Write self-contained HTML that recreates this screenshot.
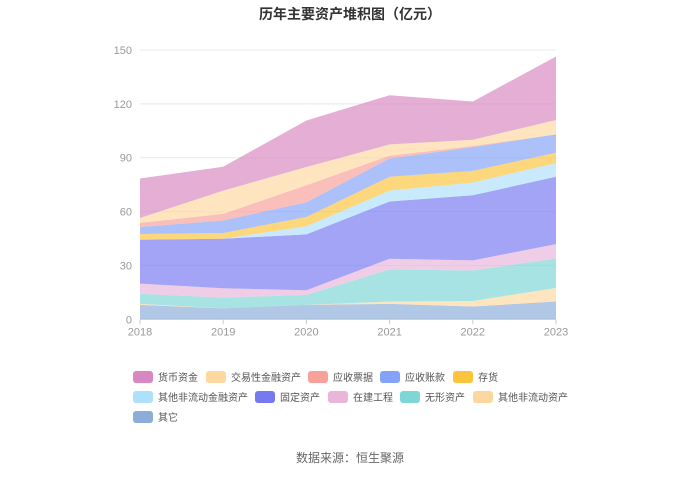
<!DOCTYPE html>
<html><head><meta charset="utf-8">
<style>
body{margin:0;background:#fff;font-family:"Liberation Sans","Noto Sans CJK SC",sans-serif;}
svg text{font-family:"Liberation Sans","Noto Sans CJK SC",sans-serif;}
</style></head>
<body>
<svg id="chart" width="700" height="473">
<text x="350" y="19" text-anchor="middle" font-size="14" font-weight="bold" fill="#333">历年主要资产堆积图（亿元）</text>
<g id="grid"></g><g id="areas"></g><g id="axes"></g><g id="legend"></g>
<text x="350" y="462" text-anchor="middle" font-size="12" fill="#666">数据来源：恒生聚源</text>
</svg>
<script>
const years=["2018","2019","2020","2021","2022","2023"];
const yTicks=[0,30,60,90,120,150];
const seriesNames=["其它","其他非流动资产","无形资产","在建工程","固定资产","其他非流动金融资产","存货","应收账款","应收票据","交易性金融资产","货币资金"];
const sOther=[8.0,6.1,8.0,8.6,7.1,9.9];
const sOtherNonCur=[0.6,0,0,1.3,3.1,7.6];
const sIntangible=[5.6,6.0,5.6,17.9,17.0,16.4];
const sConstruction=[5.7,5.2,2.6,5.9,5.6,8.0];
const sFixed=[24.4,27.6,31.1,31.9,36.3,37.5];
const sNonCurFin=[0,0,4.5,6.1,7.1,7.6];
const sInventory=[3.2,3.2,5.2,7.7,6.5,5.8];
const sReceivable=[3.9,6.9,8.2,10.2,13.2,10.2];
const sNotes=[2.3,3.7,9.5,1.5,0.6,0];
const sTrading=[2.7,13.0,10.1,6.3,3.5,8.0];
const sCash=[22.0,13.3,25.9,27.4,21.3,35.4];
const seriesData=[sOther,sOtherNonCur,sIntangible,sConstruction,sFixed,sNonCurFin,sInventory,sReceivable,sNotes,sTrading,sCash];
const colors=["#8badd8","#fcd8a0","#7fd6d6","#e9b6da","#7779f0","#aee0fa","#fbc43c","#84a3f8","#f8a19a","#fdd9a0","#d987c0"];
const slugs=["other","other-noncurrent-assets","intangible-assets","construction-in-progress","fixed-assets","other-noncurrent-financial-assets","inventory","accounts-receivable","notes-receivable","trading-financial-assets","cash"];
const X0=140,X1=556,Y0=319.3,Y1=50;
const xs=i=>X0+(X1-X0)*i/(years.length-1);
const ys=v=>Y0-(Y0-Y1)*v/150;
const NS="http://www.w3.org/2000/svg";
function mk(tag,attrs,parent){const e=document.createElementNS(NS,tag);for(const k in attrs)e.setAttribute(k,attrs[k]);parent.appendChild(e);return e;}
const grid=document.getElementById('grid'),axes=document.getElementById('axes'),areas=document.getElementById('areas'),legend=document.getElementById('legend');
yTicks.forEach(t=>{
 const l=mk('line',{x1:X0,x2:X1,y1:ys(t),y2:ys(t),stroke:t===0?'#ccc':'#e6e9f2'},grid);
 
 
 const tx=mk('text',{x:X0-8,y:ys(t)+4,'text-anchor':'end','font-size':11,fill:'#999'},axes);
 tx.textContent=t;
 
 
});
years.forEach((y,i)=>{
 const tk=mk('line',{x1:xs(i),x2:xs(i),y1:Y0,y2:Y0+5,stroke:'#ccc'},axes);
 
 
 const tx=mk('text',{x:xs(i),y:Y0+16,'text-anchor':'middle','font-size':11,fill:'#999'},axes);
 tx.textContent=y;
 
 
});
let base=years.map(()=>0);
seriesData.forEach((d,si)=>{
 const top=base.map((b,i)=>b+d[i]);
 let p='M'+years.map((_,i)=>xs(i)+','+ys(top[i])).join(' L');
 for(let i=years.length-1;i>=0;i--)p+=' L'+xs(i)+','+ys(base[i]);
 p+='Z';
 const a=mk('path',{d:p,fill:colors[si],'fill-opacity':0.68},areas);
 
 
 base=top;
});
const order=[10,9,8,7,6,5,4,3,2,1,0];
const lx=[133,206,308,380,453,133,255,328,400,473,133];
const ly=[377,377,377,377,377,397,397,397,397,397,417];
order.forEach((si,k)=>{
 const g=mk('g',{},legend);
 
 
 mk('rect',{x:lx[k],y:ly[k]-6,width:20,height:12,rx:3,fill:colors[si]},g);
 const t=mk('text',{x:lx[k]+25,y:ly[k]+4,'font-size':10,fill:'#555'},g);
 t.textContent=seriesNames[si];
});
</script>
</body></html>
